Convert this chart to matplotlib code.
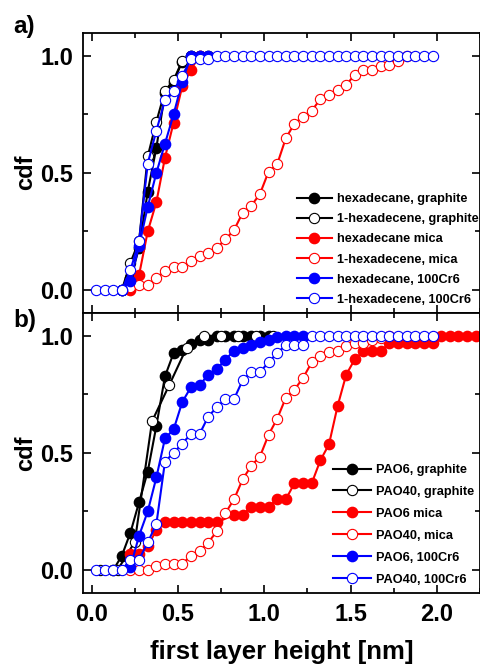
"""Cumulative distribution of the first layer height on graphite, mica and 100Cr6."""

import matplotlib

matplotlib.use("Agg")
from matplotlib import pyplot as plt
from matplotlib.ticker import FormatStrFormatter, MultipleLocator

plt.rcParams["font.family"] = ["Liberation Sans", "DejaVu Sans"]
plt.rcParams["font.weight"] = "bold"
plt.rcParams["axes.labelweight"] = "bold"

# panel a) hexadecane / 1-hexadecene
HEXADECANE_GRAPHITE_X = [0.175, 0.225, 0.275, 0.325, 0.375, 0.425, 0.475, 0.525, 0.575, 0.625, 0.675]
HEXADECANE_GRAPHITE_Y = [0.0, 0.05, 0.18, 0.42, 0.607, 0.84, 0.89, 0.975, 1.0, 1.0, 1.0]

HEXADECENE_GRAPHITE_X = [0.175, 0.225, 0.275, 0.325, 0.375, 0.425, 0.475, 0.525, 0.575]
HEXADECENE_GRAPHITE_Y = [0.0, 0.117, 0.21, 0.57, 0.718, 0.85, 0.896, 0.979, 1.0]

HEXADECANE_MICA_X = [0.225, 0.275, 0.325, 0.375, 0.425, 0.475, 0.525, 0.575, 0.625]
HEXADECANE_MICA_Y = [0.0, 0.065, 0.25, 0.375, 0.565, 0.715, 0.87, 0.94, 1.0]

HEXADECENE_MICA_X = [
    0.225, 0.275, 0.325, 0.375, 0.425, 0.475, 0.525, 0.575, 0.625, 0.675, 0.725,
    0.775, 0.825, 0.875, 0.925, 0.975, 1.025, 1.075, 1.125, 1.175, 1.225, 1.275,
    1.325, 1.375, 1.425, 1.475, 1.525, 1.575, 1.625, 1.675, 1.725, 1.775, 1.825,
]
HEXADECENE_MICA_Y = [
    0.014, 0.02, 0.02, 0.053, 0.08, 0.10, 0.10, 0.124, 0.144, 0.16, 0.18,
    0.216, 0.256, 0.33, 0.36, 0.41, 0.505, 0.537, 0.648, 0.71, 0.74, 0.765,
    0.815, 0.833, 0.853, 0.876, 0.919, 0.939, 0.939, 0.957, 0.96, 0.979, 1.0,
]

HEXADECANE_STEEL_X = [0.175, 0.225, 0.275, 0.325, 0.375, 0.425, 0.475, 0.525, 0.575, 0.625, 0.675]
HEXADECANE_STEEL_Y = [0.0, 0.04, 0.19, 0.355, 0.50, 0.625, 0.75, 0.89, 1.0, 1.0, 1.0]

HEXADECENE_STEEL_X = [
    0.025, 0.075, 0.125, 0.175, 0.225, 0.275, 0.325, 0.375, 0.425, 0.475,
    0.525, 0.575, 0.625, 0.675, 0.725, 0.775, 0.825, 0.875, 0.925, 0.975,
    1.025, 1.075, 1.125, 1.175, 1.225, 1.275, 1.325, 1.375, 1.425, 1.475,
    1.525, 1.575, 1.625, 1.675, 1.725, 1.775, 1.825, 1.875, 1.925, 1.975,
]
HEXADECENE_STEEL_Y = [
    0.0, 0.0, 0.0, 0.0, 0.085, 0.21, 0.54, 0.68, 0.81, 0.85,
    0.915, 0.986, 0.986, 0.986, 1.0, 1.0, 1.0, 1.0, 1.0, 1.0,
    1.0, 1.0, 1.0, 1.0, 1.0, 1.0, 1.0, 1.0, 1.0, 1.0,
    1.0, 1.0, 1.0, 1.0, 1.0, 1.0, 1.0, 1.0, 1.0, 1.0,
]

# panel b) PAO6 / PAO40
PAO6_GRAPHITE_X = [
    0.125, 0.175, 0.225, 0.275, 0.325, 0.375, 0.425, 0.475, 0.525, 0.575,
    0.625, 0.675, 0.725, 0.775, 0.825, 0.875, 0.925, 0.975, 1.025,
]
PAO6_GRAPHITE_Y = [
    0.0, 0.061, 0.16, 0.29, 0.42, 0.615, 0.827, 0.926, 0.94, 0.965,
    0.98, 0.98, 1.0, 1.0, 1.0, 1.0, 1.0, 1.0, 1.0,
]

PAO40_GRAPHITE_X = [0.05, 0.15, 0.25, 0.35, 0.45, 0.55, 0.65, 0.75, 0.85, 0.95, 1.05]
PAO40_GRAPHITE_Y = [0.0, 0.0, 0.12, 0.635, 0.79, 0.948, 1.0, 1.0, 1.0, 1.0, 1.0]

PAO6_MICA_X = [
    0.225, 0.275, 0.325, 0.375, 0.425, 0.475, 0.525, 0.575, 0.625, 0.675,
    0.725, 0.825, 0.875, 0.925, 0.975, 1.025, 1.075, 1.125, 1.175, 1.225,
    1.275, 1.325, 1.375, 1.425, 1.475, 1.525, 1.575, 1.625, 1.675, 1.725,
    1.775, 1.825, 1.875, 1.925, 1.975, 2.025, 2.075, 2.125, 2.175, 2.225,
]
PAO6_MICA_Y = [
    0.068, 0.068, 0.103, 0.17, 0.203, 0.203, 0.203, 0.203, 0.203, 0.203,
    0.203, 0.236, 0.236, 0.27, 0.27, 0.27, 0.302, 0.302, 0.37, 0.37,
    0.37, 0.468, 0.536, 0.70, 0.834, 0.90, 0.933, 0.933, 0.933, 0.969,
    0.969, 0.969, 0.969, 0.969, 0.969, 1.0, 1.0, 1.0, 1.0, 1.0,
]

PAO40_MICA_X = [
    0.225, 0.275, 0.325, 0.375, 0.425, 0.475, 0.525, 0.575, 0.625, 0.675,
    0.725, 0.775, 0.825, 0.875, 0.925, 0.975, 1.025, 1.075, 1.125, 1.175,
    1.225, 1.275, 1.325, 1.375, 1.425, 1.475, 1.525, 1.575, 1.625, 1.675, 1.725,
]
PAO40_MICA_Y = [
    0.0, 0.0, 0.0, 0.016, 0.025, 0.025, 0.025, 0.062, 0.08, 0.117,
    0.165, 0.243, 0.302, 0.387, 0.445, 0.484, 0.577, 0.646, 0.735, 0.77,
    0.82, 0.886, 0.912, 0.929, 0.933, 0.955, 0.969, 0.969, 0.98, 0.99, 1.0,
]

PAO6_STEEL_X = [
    0.225, 0.275, 0.325, 0.375, 0.425, 0.475, 0.525, 0.575, 0.625, 0.675, 0.725,
    0.775, 0.825, 0.875, 0.925, 0.975, 1.025, 1.075, 1.125, 1.175, 1.225,
]
PAO6_STEEL_Y = [
    0.013, 0.147, 0.25, 0.395, 0.562, 0.60, 0.717, 0.78, 0.79, 0.832, 0.858,
    0.898, 0.936, 0.948, 0.962, 0.973, 0.98, 0.993, 1.0, 1.0, 1.0,
]

PAO40_STEEL_X = [
    0.025, 0.075, 0.125, 0.175, 0.225, 0.275, 0.325, 0.375, 0.425, 0.475,
    0.525, 0.575, 0.625, 0.675, 0.725, 0.775, 0.825, 0.875, 0.925, 0.975,
    1.025, 1.075, 1.125, 1.175, 1.225, 1.275, 1.325, 1.375, 1.425, 1.475,
    1.525, 1.575, 1.625, 1.675, 1.725, 1.775, 1.825, 1.875, 1.925, 1.975,
]
PAO40_STEEL_Y = [
    0.0, 0.0, 0.0, 0.0, 0.044, 0.044, 0.118, 0.196, 0.463, 0.50,
    0.54, 0.58, 0.58, 0.654, 0.695, 0.73, 0.73, 0.81, 0.845, 0.845,
    0.886, 0.926, 0.96, 0.96, 0.96, 1.0, 1.0, 1.0, 1.0, 1.0,
    1.0, 1.0, 1.0, 1.0, 1.0, 1.0, 1.0, 1.0, 1.0, 1.0,
]

SERIES_A = [
    ("hexadecane, graphite", HEXADECANE_GRAPHITE_X, HEXADECANE_GRAPHITE_Y, "black", True),
    ("1-hexadecene, graphite", HEXADECENE_GRAPHITE_X, HEXADECENE_GRAPHITE_Y, "black", False),
    ("hexadecane mica", HEXADECANE_MICA_X, HEXADECANE_MICA_Y, "red", True),
    ("1-hexadecene, mica", HEXADECENE_MICA_X, HEXADECENE_MICA_Y, "red", False),
    ("hexadecane, 100Cr6", HEXADECANE_STEEL_X, HEXADECANE_STEEL_Y, "blue", True),
    ("1-hexadecene, 100Cr6", HEXADECENE_STEEL_X, HEXADECENE_STEEL_Y, "blue", False),
]
SERIES_B = [
    ("PAO6, graphite", PAO6_GRAPHITE_X, PAO6_GRAPHITE_Y, "black", True),
    ("PAO40, graphite", PAO40_GRAPHITE_X, PAO40_GRAPHITE_Y, "black", False),
    ("PAO6 mica", PAO6_MICA_X, PAO6_MICA_Y, "red", True),
    ("PAO40, mica", PAO40_MICA_X, PAO40_MICA_Y, "red", False),
    ("PAO6, 100Cr6", PAO6_STEEL_X, PAO6_STEEL_Y, "blue", True),
    ("PAO40, 100Cr6", PAO40_STEEL_X, PAO40_STEEL_Y, "blue", False),
]

TICK_SIZE = 17
LABEL_SIZE = 18.5
LEGEND_SIZE = 9.2


def _draw_panel(axis, series):
    for label, x_values, y_values, color, filled in series:
        axis.plot(
            x_values,
            y_values,
            color=color,
            linewidth=1.5,
            marker="o",
            markersize=7.4,
            markerfacecolor=color if filled else "white",
            markeredgecolor=color,
            markeredgewidth=1.0 if filled else 0.8,
            label=label,
        )
    axis.set_xlim(-0.05, 2.25)
    axis.set_ylim(-0.098, 1.097)
    axis.xaxis.set_major_locator(MultipleLocator(0.5))
    axis.xaxis.set_minor_locator(MultipleLocator(0.25))
    axis.yaxis.set_major_locator(MultipleLocator(0.5))
    axis.yaxis.set_minor_locator(MultipleLocator(0.25))
    axis.xaxis.set_major_formatter(FormatStrFormatter("%.1f"))
    axis.yaxis.set_major_formatter(FormatStrFormatter("%.1f"))
    axis.tick_params(which="both", direction="in", top=True, right=True, width=1.2)
    axis.tick_params(which="major", length=6, pad=7, labelsize=TICK_SIZE)
    axis.tick_params(which="minor", length=3.5)
    for spine in axis.spines.values():
        spine.set_linewidth(1.3)


def _add_legend(axis, figure, anchor_px, handle_length, spacing):
    axis.legend(
        loc="upper left",
        bbox_to_anchor=(anchor_px[0] / 480, 1 - anchor_px[1] / 666),
        bbox_transform=figure.transFigure,
        frameon=False,
        fontsize=LEGEND_SIZE,
        borderpad=0,
        borderaxespad=0,
        handlelength=handle_length,
        handletextpad=0.4,
        labelspacing=spacing,
    )


figure = plt.figure(figsize=(4.8, 6.66), dpi=100)
axis_a = figure.add_axes([83 / 480, 1 - 313 / 666, 397 / 480, 280 / 666])
axis_b = figure.add_axes([83 / 480, 1 - 593 / 666, 397 / 480, 280 / 666])

_draw_panel(axis_a, SERIES_A)
_draw_panel(axis_b, SERIES_B)
axis_a.tick_params(labelbottom=False)

_add_legend(axis_a, figure, (297, 193), 2.7, 0.64)
_add_legend(axis_b, figure, (333, 464), 3.0, 0.78)

axis_b.set_xlabel("first layer height [nm]", fontsize=LABEL_SIZE, fontweight="bold", labelpad=10)
figure.text(26 / 480, 1 - 172 / 666, "cdf", rotation=90, ha="center", va="center", fontsize=17)
figure.text(26 / 480, 1 - 453 / 666, "cdf", rotation=90, ha="center", va="center", fontsize=17)
figure.text(13 / 480, 1 - 26 / 666, "a)", ha="left", va="center", fontsize=17.5)
figure.text(13 / 480, 1 - 321 / 666, "b)", ha="left", va="center", fontsize=17.5)

figure.savefig("out.png", dpi=100)
plt.close(figure)
